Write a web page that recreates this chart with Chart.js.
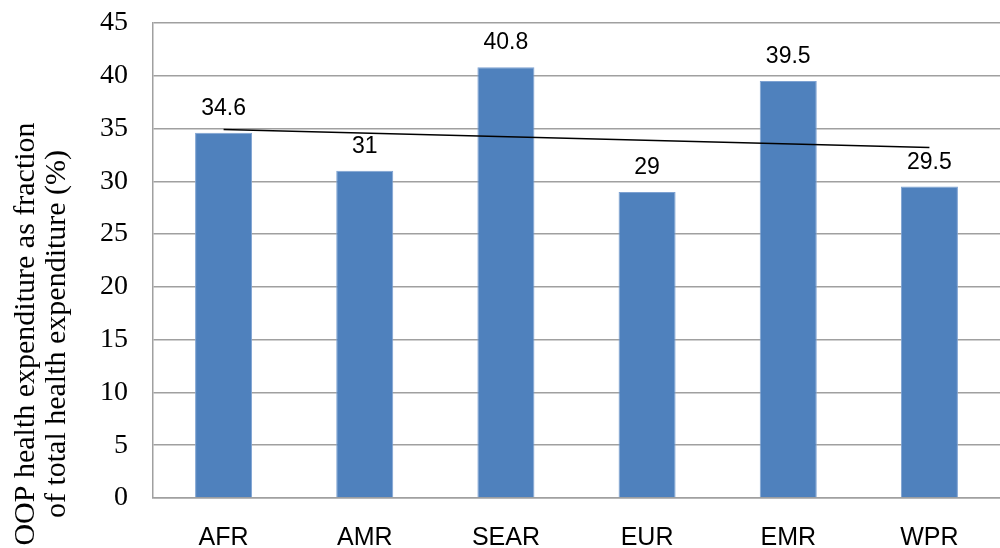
<!DOCTYPE html>
<html>
<head>
<meta charset="utf-8">
<script src="https://cdn.jsdelivr.net/npm/chart.js@4/dist/chart.umd.min.js"></script>
<style>
  html, body { margin: 0; padding: 0; background: #fff; }
  #wrap { width: 1000px; height: 548px; position: relative; }
</style>
</head>
<body>
<div id="wrap"><canvas id="chart"></canvas></div>
<script>
// WHO regions and out-of-pocket share of total health expenditure (%)
const regions = ['AFR', 'AMR', 'SEAR', 'EUR', 'EMR', 'WPR'];
const oopShare = [34.6, 31, 40.8, 29, 39.5, 29.5];
// Linear trend line endpoints (first and last region)
const trendLine = [34.9, null, null, null, null, 33.2];
const yTicks = [0, 5, 10, 15, 20, 25, 30, 35, 40, 45];
const yTitleLines = ['OOP health expenditure as fraction', 'of total health expenditure (%)'];

const SERIF = "'Liberation Serif', 'Times New Roman', serif";
const SANS = "'Liberation Sans', Arial, sans-serif";

// Value labels above each bar
const barValueLabels = {
  id: 'barValueLabels',
  afterDatasetsDraw(chart) {
    const meta = chart.getDatasetMeta(1);
    const ctx = chart.ctx;
    ctx.save();
    ctx.font = '23px ' + SANS;
    ctx.fillStyle = '#000';
    ctx.textAlign = 'center';
    ctx.textBaseline = 'alphabetic';
    meta.data.forEach((bar, i) => {
      ctx.fillText(String(oopShare[i]), bar.x, bar.y - 18);
    });
    ctx.restore();
  }
};

// Two-line rotated y-axis title
const yAxisTitle = {
  id: 'yAxisTitle',
  afterDraw(chart) {
    const ctx = chart.ctx;
    const cy = 334;
    const xs = [34, 65];
    ctx.save();
    ctx.font = '30px ' + SERIF;
    ctx.fillStyle = '#000';
    ctx.textAlign = 'center';
    ctx.textBaseline = 'alphabetic';
    yTitleLines.forEach((line, i) => {
      ctx.save();
      ctx.translate(xs[i], cy);
      ctx.rotate(-Math.PI / 2);
      ctx.fillText(line, 0, 0);
      ctx.restore();
    });
    ctx.restore();
  }
};

new Chart(document.getElementById('chart'), {
  data: {
    labels: regions,
    datasets: [
      {
        type: 'line',
        data: trendLine,
        spanGaps: true,
        borderColor: '#000',
        borderWidth: 1.5,
        pointRadius: 0,
        fill: false,
        order: 0
      },
      {
        type: 'bar',
        data: oopShare,
        backgroundColor: '#4f81bd',
        borderColor: '#7ea2d2',
        borderWidth: 1,
        categoryPercentage: 1,
        barPercentage: 0.404,
        order: 1
      }
    ]
  },
  options: {
    responsive: true,
    maintainAspectRatio: false,
    animation: false,
    layout: { padding: { top: 23, right: 0, left: 0, bottom: 0 } },
    plugins: {
      legend: { display: false },
      tooltip: { enabled: false }
    },
    scales: {
      x: {
        grid: { display: false, drawTicks: false },
        border: { display: true, color: '#a0a0a0', width: 1.5 },
        ticks: {
          color: '#000',
          font: { family: SANS, size: 25 },
          padding: 25,
          maxRotation: 0
        },
        afterFit(scale) { scale.height = 50; }
      },
      y: {
        min: 0,
        max: 45,
        afterBuildTicks(scale) { scale.ticks = yTicks.map(v => ({ value: v })); },
        grid: {
          color: '#a0a0a0',
          lineWidth: 1.5,
          drawTicks: true,
          tickLength: 25,
          tickColor: 'rgba(0,0,0,0)'
        },
        border: { display: true, color: '#a0a0a0', width: 1.5 },
        ticks: {
          color: '#000',
          font: { family: SERIF, size: 28 },
          padding: 0
        },
        afterFit(scale) { scale.width = 153; }
      }
    }
  },
  plugins: [barValueLabels, yAxisTitle]
});
</script>
</body>
</html>
